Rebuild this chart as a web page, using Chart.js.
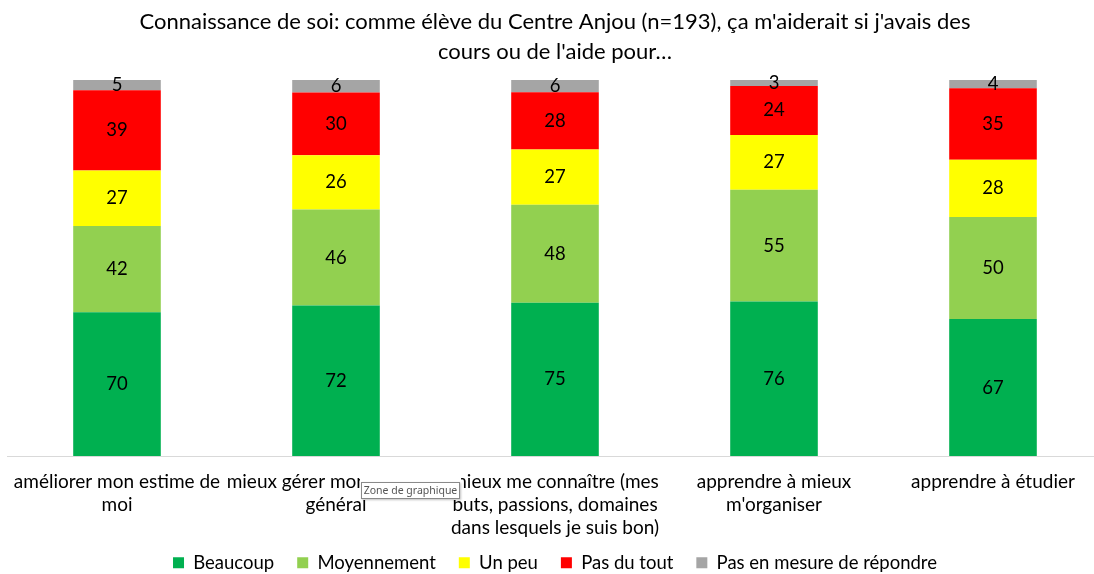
<!DOCTYPE html>
<html>
<head>
<meta charset="utf-8">
<script src="https://cdn.jsdelivr.net/npm/chart.js@4.4.1/dist/chart.umd.min.js"></script>
<style>
  html, body { margin: 0; padding: 0; background: #fff; overflow: hidden; }
  .wrap { position: relative; width: 1110px; height: 582px; }
  .tip-bg { position: absolute; left: 360px; top: 474px; width: 101px; height: 26px; background: #fff; }
  .tip {
    position: absolute; left: 1px; top: 8px; width: 97px; height: 15px;
    border: 1px solid #8a8a8a; background: #fff; color: #555; text-align: center;
    font: 10.5px "Noto Sans", sans-serif; line-height: 15px; white-space: nowrap;
    box-shadow: 1px 1px 2px rgba(0,0,0,0.25);
  }
</style>
</head>
<body>
<div class="wrap">
  <canvas id="chart"></canvas>
  <div class="tip-bg"><div class="tip">Zone de graphique</div></div>
</div>
<script>
const categories = [
  ['améliorer mon estime de', 'moi'],
  ['mieux gérer mon stress en', 'général'],
  ['mieux me connaître (mes', 'buts, passions, domaines', 'dans lesquels je suis bon)'],
  ['apprendre à mieux', "m'organiser"],
  ['apprendre à étudier']
];
const seriesNames = ['Beaucoup', 'Moyennement', 'Un peu', 'Pas du tout', 'Pas en mesure de répondre'];
const beaucoup    = [70, 72, 75, 76, 67];
const moyennement = [42, 46, 48, 55, 50];
const unPeu       = [27, 26, 27, 27, 28];
const pasDuTout   = [39, 30, 28, 24, 35];
const pasEnMesure = [5, 6, 6, 3, 4];
const colors = ['#00B050', '#92D050', '#FFFF00', '#FF0000', '#A5A5A5'];

const series = [beaucoup, moyennement, unPeu, pasDuTout, pasEnMesure];
const totals = categories.map((_, i) => series.reduce((s, arr) => s + arr[i], 0));

// 100% stacked: bars are shares of each total, labels show the counts
const valueLabels = {
  id: 'valueLabels',
  afterLayout(chart) {
    // let the 3-line tick label spill past the axis box (labels are clipped to it)
    chart.scales.x.bottom += 30;
  },
  afterDatasetsDraw(chart) {
    const ctx = chart.ctx;
    ctx.save();
    ctx.font = '18.5px Lato';
    ctx.fillStyle = '#000';
    ctx.textAlign = 'center';
    ctx.textBaseline = 'middle';
    chart.data.datasets.forEach((ds, di) => {
      chart.getDatasetMeta(di).data.forEach((bar, i) => {
        ctx.fillText(String(ds.counts[i]), bar.x, (bar.y + bar.base) / 2);
      });
    });
    ctx.restore();
  }
};

new Chart(document.getElementById('chart'), {
  type: 'bar',
  data: {
    labels: categories,
    datasets: series.map((arr, k) => ({
      label: seriesNames[k],
      counts: arr,
      data: arr.map((v, i) => v / totals[i] * 100),
      backgroundColor: colors[k],
      borderWidth: 0,
      barPercentage: 1,
      categoryPercentage: 0.4
    }))
  },
  options: {
    responsive: true, maintainAspectRatio: false, animation: false,
    layout: { padding: { left: 7.5, right: 7.5 } },
    plugins: {
      title: {
        display: true,
        text: ["Connaissance de soi: comme élève du Centre Anjou (n=193), ça m'aiderait si j'avais des", "cours ou de l'aide pour…"],
        color: '#000',
        font: { family: 'Lato', size: 22, weight: 'normal', lineHeight: 1.364 },
        padding: { top: 7, bottom: 13 }
      },
      legend: {
        position: 'bottom',
        labels: {
          color: '#000', boxWidth: 11, boxHeight: 11, padding: 23,
          font: { family: 'Lato', size: 18.5 }
        }
      },
      tooltip: { enabled: false }
    },
    scales: {
      x: {
        stacked: true,
        grid: { display: false, drawTicks: true, tickLength: 14.5 },
        border: { display: true, color: '#d9d9d9', width: 1 },
        ticks: { color: '#000', padding: 0, maxRotation: 0, autoSkip: false, font: { family: 'Lato', size: 19, lineHeight: 1.21 } },
        afterFit: s => { s.height = 74.5; }
      },
      y: { stacked: true, display: false, min: 0, max: 100 }
    }
  },
  plugins: [valueLabels]
});
</script>
</body>
</html>
